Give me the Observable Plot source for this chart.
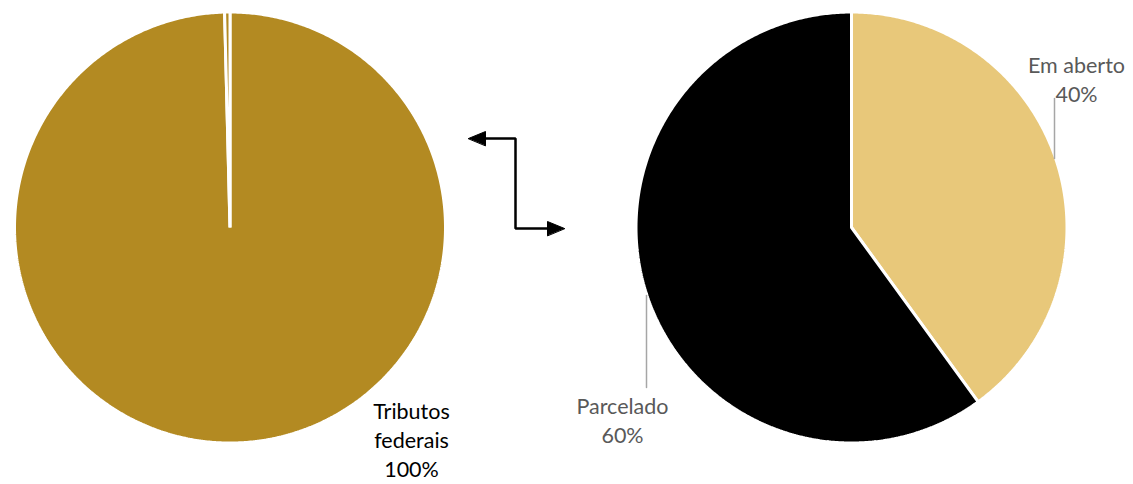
<!DOCTYPE html>
<html><head><meta charset="utf-8">
<script src="https://cdn.jsdelivr.net/npm/d3@7"></script>
<script src="https://cdn.jsdelivr.net/npm/@observablehq/plot@0.6"></script>
<style>body{margin:0;background:#fff;} #chart svg{display:block;}</style>
</head><body><div id="chart"></div>
<script>
// ---- data ----
const leftCategories = ["Tributos federais", "Outros"];
const leftValues = [99.6, 0.4];
const leftLabels = ["Tributos\nfederais\n100%", ""];
const rightCategories = ["Em aberto", "Parcelado"];
const rightValues = [40, 60];
const rightLabels = ["Em aberto\n40%", "Parcelado\n60%"];

// ---- layout / style ----
const W = 1133, H = 484;
const pies = [
  {cats: leftCategories, vals: leftValues, labels: leftLabels, cx: 229.5, cy: 227, r: 215.5,
   colors: ["#B38A22", "#B38A22"], textColor: "#000000",
   labelPos: [{x: 411, y: 438}, null], leaders: [null, null]},
  {cats: rightCategories, vals: rightValues, labels: rightLabels, cx: 851, cy: 227, r: 215.5,
   colors: ["#E8C87A", "#000000"], textColor: "#595959",
   labelPos: [{x: 1076, y: 78}, {x: 622, y: 419}],
   leaders: [{x: 1054, y1: 98, y2: 158}, {x: 646, y1: 295, y2: 387}]}
];

function slicePolygon(cx, cy, r, a0, a1) {
  const pts = [[cx, cy]];
  const n = Math.max(2, Math.ceil((a1 - a0) / (Math.PI / 360)));
  for (let i = 0; i <= n; i++) {
    const a = a0 + (a1 - a0) * i / n;
    pts.push([cx + r * Math.sin(a), cy - r * Math.cos(a)]);
  }
  return pts;
}

const marks = [];
for (const p of pies) {
  const arcs = d3.pie().sort(null).value(d => d)(p.vals);
  arcs.forEach((a, i) => {
    const poly = slicePolygon(p.cx, p.cy, p.r, a.startAngle, a.endAngle);
    marks.push(Plot.line(poly, {x: d => d[0], y: d => d[1], curve: "linear-closed",
      fill: p.colors[i], stroke: "#ffffff", strokeWidth: 3, strokeLinejoin: "miter"}));
  });
  p.labels.forEach((t, i) => {
    if (!t || !p.labelPos[i]) return;
    marks.push(Plot.text([t], {x: () => p.labelPos[i].x, y: () => p.labelPos[i].y, text: d => d,
      fill: p.textColor, fontSize: 21.5, lineHeight: 1.36, fontFamily: "Lato, 'Open Sans', sans-serif",
      textAnchor: "middle", lineAnchor: "middle"}));
    const L = p.leaders[i];
    if (L) marks.push(Plot.line([[L.x, L.y1], [L.x, L.y2]], {x: d => d[0], y: d => d[1],
      stroke: "#A6A6A6", strokeWidth: 1.5}));
  });
}

// connector arrow between the pies
const arrowPath = [[484, 138], [515, 138], [515, 228], [548, 228]];
const headL = [[468, 138], [485, 131], [485, 145]];
const headR = [[564, 228], [547, 221], [547, 235]];
marks.push(Plot.line(arrowPath, {x: d => d[0], y: d => d[1], stroke: "#000", strokeWidth: 2.5, strokeLinejoin: "miter"}));
for (const h of [headL, headR]) {
  marks.push(Plot.line(h, {x: d => d[0], y: d => d[1], curve: "linear-closed", fill: "#000", stroke: "#000", strokeWidth: 1}));
}

const chart = Plot.plot({
  width: W, height: H,
  margin: 0,
  x: {domain: [0, W], range: [0, W], axis: null},
  y: {domain: [0, H], range: [0, H], axis: null},
  style: {background: "#fff"},
  marks
});
document.getElementById("chart").append(chart);
</script>
</body></html>
